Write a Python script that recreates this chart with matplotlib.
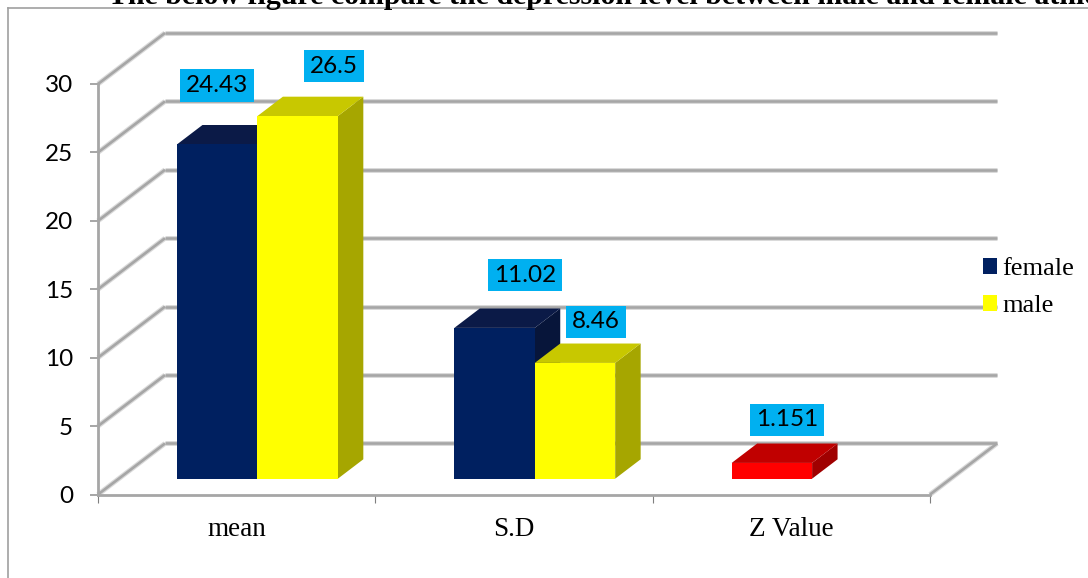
import numpy as np
import matplotlib
matplotlib.use("Agg")
import matplotlib.pyplot as plt
from matplotlib.patches import Polygon, Patch
from matplotlib.lines import Line2D

# chart data
title = "The below figure compare the depression level between male and female athletes"
categories = ["mean", "S.D", "Z Value"]
series_names = ["female", "male"]
female = [24.43, 11.02, 1.151]
male = [26.5, 8.46, None]
label_text = ["24.43", "26.5", "11.02", "8.46", "1.151"]
y_ticks = [0, 5, 10, 15, 20, 25, 30]

# colours: (front, top, side)
navy = ("#002060", "#0b1a47", "#07153a")
yellow = ("#FFFF00", "#C8C800", "#A6A600")
red = ("#FF0000", "#C00000", "#A00000")
female_colors = [navy, navy, red]
male_colors = [yellow, yellow, yellow]

# 3d look (data units): full depth of the box, bar slab inside it
DX, DY = 0.2416, 3.73
F0, F1 = 0.31, 0.69
BAR_W = 0.29
GRID = "#A6A6A6"

# label offsets from top-front-centre of each bar, in points
label_offsets = [(0, 42.5), (26, 36), (22, 38), (15, 29.5), (11, 31)]


def draw_bar(ax, x_left, value, colors, z):
    front, top, side = colors
    b = F0 * DY
    x0 = x_left + F0 * DX
    ddx, ddy = (F1 - F0) * DX, (F1 - F0) * DY
    x1 = x0 + BAR_W
    t = value + b
    ax.add_patch(Polygon([(x1, b), (x1, t), (x1 + ddx, t + ddy), (x1 + ddx, b + ddy)],
                         closed=True, facecolor=side, edgecolor="none", zorder=z, clip_on=False))
    ax.add_patch(Polygon([(x0, t), (x1, t), (x1 + ddx, t + ddy), (x0 + ddx, t + ddy)],
                         closed=True, facecolor=top, edgecolor="none", zorder=z, clip_on=False))
    ax.bar(x0, value, BAR_W, bottom=b, align="edge", color=front, edgecolor="none",
           zorder=z + 0.5, clip_on=False)
    return x0 + BAR_W / 2, t


def wall_line(ax, xs, ys):
    ax.plot(xs, ys, color="#DADADA", lw=3.6, solid_capstyle="butt", zorder=1, clip_on=False)
    ax.plot(xs, ys, color=GRID, lw=1.9, solid_capstyle="butt", zorder=1.1, clip_on=False)


def main():
    W, H = 1088, 578
    fig = plt.figure(figsize=(W / 100, H / 100), dpi=100)
    ax = fig.add_axes([98 / W, 1 - 494.5 / H, 832 / W, 410.5 / H])
    n = len(categories)
    ax.set_xlim(0, n)
    ax.set_ylim(0, 30)

    # outer frame of the chart area
    fig.add_artist(Line2D([8 / W, 8 / W], [0, 1 - 8 / H], color="#A0A0A0", lw=1.2))
    fig.add_artist(Line2D([8 / W, 1], [1 - 8 / H, 1 - 8 / H], color="#A0A0A0", lw=1.2))

    # cut-off caption above the chart
    fig.text(108 / W, 1 - 4 / H, title, va="baseline", ha="left", fontsize=21.5,
             fontweight="bold", family="Liberation Serif")

    # walls and floor
    for v in y_ticks:
        wall_line(ax, [DX, n + DX], [v + DY, v + DY])
        wall_line(ax, [0, DX], [v, v + DY])
    wall_line(ax, [n, n + DX], [0, DY])

    # bars, back to front inside each group
    tops = []
    z = 3
    for i in range(n):
        for vals, cols, shift in ((female, female_colors, 0.21), (male, male_colors, 0.5)):
            if vals[i] is None:
                continue
            tops.append(draw_bar(ax, i + shift, vals[i], cols[i], z))
            z += 1

    for (xc, yt), txt, off in zip(tops, label_text, label_offsets):
        ax.annotate(txt, (xc, yt), xytext=off, textcoords="offset points",
                    ha="center", va="center", fontsize=17.5, family="Lato", zorder=20,
                    bbox=dict(boxstyle="square,pad=0.24", fc="#00B0F0", ec="none"),
                    annotation_clip=False)

    # axes
    for s in ("top", "right"):
        ax.spines[s].set_visible(False)
    for s in ("left", "bottom"):
        ax.spines[s].set_color(GRID)
        ax.spines[s].set_linewidth(2.0)
        ax.spines[s].set_zorder(2)
    ax.set_yticks(y_ticks)
    ax.set_yticklabels([str(t) for t in y_ticks], family="Lato", fontsize=17.5)
    ax.tick_params(axis="y", length=5.8, width=1.4, color=GRID, pad=12)
    ax.set_xticks([i + 0.5 for i in range(n)])
    ax.set_xticklabels(categories, family="Liberation Serif", fontsize=19.5)
    ax.set_xticks(range(n + 1), minor=True)
    ax.tick_params(axis="x", which="major", length=0, pad=16)
    ax.tick_params(axis="x", which="minor", length=5.8, width=0.8, color="#7F7F7F")
    ax.patch.set_visible(False)

    handles = [Patch(facecolor=navy[0]), Patch(facecolor=yellow[0])]
    fig.legend(handles, series_names, loc="upper left", bbox_to_anchor=(983 / W, 1 - 258 / H),
               frameon=False, prop={"family": "Liberation Serif", "size": 19},
               handlelength=0.53, handleheight=0.53, handletextpad=0.2,
               labelspacing=0.57, borderpad=0, borderaxespad=0)

    fig.savefig("out.png", dpi=100)


if __name__ == "__main__":
    main()
